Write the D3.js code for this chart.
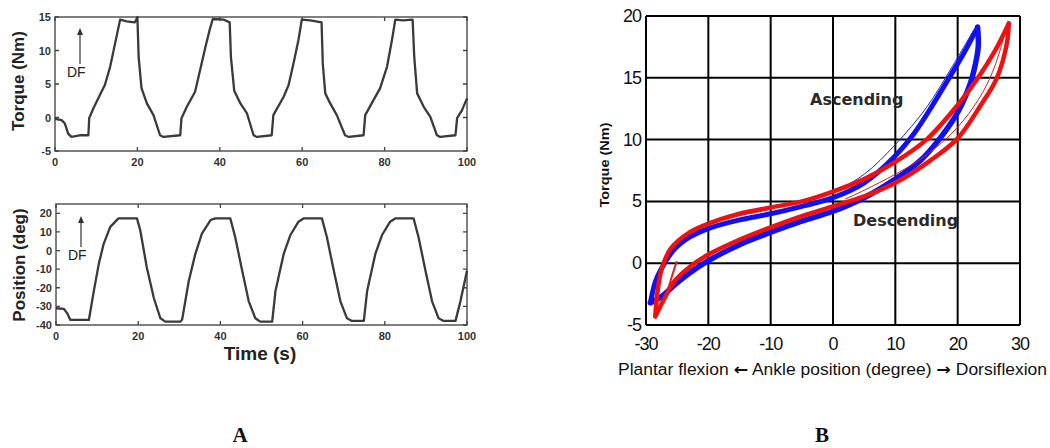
<!DOCTYPE html>
<html>
<head>
<meta charset="utf-8">
<script src="https://cdn.jsdelivr.net/npm/d3@7"></script>
<style>
  body { margin: 0; background: #fff; }
  svg { display: block; }
</style>
</head>
<body>
<svg width="1050" height="448"></svg>
<script>
// ---- data ----
// panel A top : torque (Nm) vs time (s)
var torqueData = [
  [0,-0.2],[1.6,-0.4],[2.4,-0.9],[3.2,-2.4],[4,-2.9],[6,-2.65],[8.1,-2.65],[8.3,-0.1],
  [9.3,1.35],[10.9,3.35],[12.1,4.85],[13.4,7.6],[14.6,11.1],[15.8,14.6],[17.4,14.35],
  [19.4,14.2],[20,15],[20.3,9],[21,4.4],[22.3,2.1],[23.9,0.35],[25.5,-2.65],[26.3,-2.9],
  [30.4,-2.65],[30.7,-0.1],[32,1.6],[34,3.85],[35,6.5],[36.5,10.5],[37.5,13],[38.3,14.7],
  [41,14.6],[42.4,14.2],[42.7,9],[43.5,4],[45,2.1],[46.6,0.6],[48.2,-2.65],[49,-2.9],
  [52.6,-2.65],[53,0.35],[55.5,3.1],[56.7,4.85],[57.9,8.1],[59.1,11.6],[59.9,14.6],
  [62,14.5],[64.7,14.2],[65,8],[65.6,3.6],[66.8,2.1],[68.4,0.35],[70.4,-2.65],[71.3,-2.9],
  [74.9,-2.65],[75.3,0.35],[77.3,2.6],[78.9,4.35],[80.6,7.6],[81.8,11.6],[82.6,14.6],
  [84.5,14.5],[86.8,14.6],[87.2,9],[87.9,3.6],[89.5,1.6],[91.1,0.1],[92.7,-2.65],[93.5,-2.9],
  [97.2,-2.65],[97.6,-0.1],[98.8,1.1],[100,2.85]
];
// panel A bottom : position (deg) vs time (s)
var positionData = [
  [0,-31],[1.9,-31.3],[2.7,-33.6],[3.5,-37.3],[8,-37.3],[9.2,-21.8],[10.4,-7.3],[11.6,3.6],
  [13.2,12.7],[15.2,17.3],[19.7,17.3],[20.5,10.9],[22.1,-9.1],[23.8,-25.5],[25.4,-36.4],
  [26.6,-38.2],[30.3,-38.2],[30.7,-37],[32.3,-16.4],[33.9,-1.8],[35.5,9.1],[37.6,16.4],
  [38.8,17.3],[42.4,17.3],[43.6,7.3],[45.3,-10.9],[46.9,-27.3],[48.5,-36.4],[49.7,-38.2],
  [52.6,-38.2],[53.4,-21.8],[55.4,-1.8],[57,8.2],[59,15.5],[60.3,17.3],[64.7,17.3],
  [65.9,7.3],[67.6,-10.9],[69.2,-27.3],[70.8,-36.4],[72,-37.8],[74.9,-37.8],[75.7,-21.8],
  [77.7,-1.8],[79.3,8.2],[81.3,15.5],[82.6,17.3],[87,17.3],[88.2,7.3],[89.9,-10.9],
  [91.5,-27.3],[93.1,-36.4],[94.3,-37.8],[97.2,-37.8],[98.4,-27.3],[100,-10.9]
];
var timeTicks = [0, 20, 40, 60, 80, 100];
var torqueTicks = [-5, 0, 5, 10, 15];
var positionTicks = [-40, -30, -20, -10, 0, 10, 20];

// panel B : torque vs ankle position loops
var blueAscending = [
  [-29.3,-3.2],[-28.5,-1.5],[-27.7,-0.6],[-25.5,1.1],[-23,2.1],[-20,2.8],[-15,3.5],[-10,4.0],
  [-5,4.6],[0,5.3],[5,6.5],[10,8.7],[13,10.5],[16,12.8],[19,15.3],[21,17],[23.2,19.1]
];
var blueDescending = [
  [23.2,19.1],[23.3,17.5],[22.8,16],[22,14.5],[20,12.2],[17,10],[14,8.3],[10,6.8],[5,5.3],
  [0,4.2],[-5,3.4],[-10,2.5],[-15,1.5],[-20,0.2],[-23,-0.8],[-25.5,-1.8],[-27.5,-2.7],[-29.3,-3.2]
];
var blueThin = [
  [-28.8,-2.5],[-26,0.8],[-20,3.1],[-10,4.4],[0,5.8],[5,7.2],[10,9.6],[15,12.6],[19,15.8],[22.5,18.8]
];
var redAscending = [
  [-28.5,-4.3],[-28.2,-2.5],[-27.5,-0.5],[-26,1.2],[-23,2.5],[-20,3.2],[-15,4.0],[-10,4.5],
  [-5,5.0],[0,5.8],[5,6.8],[10,8.2],[15,10],[20,12.8],[23,14.8],[26,17.2],[28.2,19.4]
];
var redDescending = [
  [28.2,19.4],[27.9,17.8],[26.3,15],[23.6,12.7],[20,10.1],[15.6,8.3],[10,6.5],[5,5.4],
  [0,4.6],[-5,3.8],[-10,2.9],[-15,1.9],[-20,0.7],[-23,-0.3],[-25.5,-1.5],[-27,-2.8],[-28.5,-4.3]
];
var redThin = [
  [27.8,19],[26,16],[24,13.8],[21,11.6],[18,10],[14,8.4],[10,7.2],[5,5.9],[2,5.2]
];
var redHook = [[-25.1,0.1],[-25.8,-1],[-26.4,-2],[-27.2,-3.2]];
var angleTicks = [-30, -20, -10, 0, 10, 20, 30];
var torqueTicksB = [-5, 0, 5, 10, 15, 20];

var svg = d3.select("svg");

// ---------- panel A ----------
function timePanel(data, yDomain, yTicks, top, bottom, left, title, titleY, arrowY) {
  var right = 467;
  var x = d3.scaleLinear().domain([0, 100]).range([left, right]);
  var y = d3.scaleLinear().domain(yDomain).range([bottom, top]);
  var g = svg.append("g");

  g.append("rect")
    .attr("x", left).attr("y", top)
    .attr("width", right - left).attr("height", bottom - top)
    .style("fill", "none").style("stroke", "#555").style("stroke-width", 1.5);

  // inward ticks all round, matlab style
  g.selectAll(".xt").data(timeTicks).enter().append("path")
    .attr("d", function(d) { return "M" + x(d) + "," + bottom + "v-4M" + x(d) + "," + top + "v4"; })
    .style("stroke", "#444").style("stroke-width", 1.3);
  g.selectAll(".yt").data(yTicks).enter().append("path")
    .attr("d", function(d) { return "M" + left + "," + y(d) + "h4M" + right + "," + y(d) + "h-4"; })
    .style("stroke", "#444").style("stroke-width", 1.3);

  g.selectAll(".xl").data(timeTicks).enter().append("text")
    .attr("x", function(d) { return x(d); })
    .attr("y", bottom + 15)
    .attr("text-anchor", "middle")
    .style("font", "bold 11px 'Liberation Sans', Arial, sans-serif")
    .style("fill", "#333")
    .text(function(d) { return d; });
  g.selectAll(".yl").data(yTicks).enter().append("text")
    .attr("x", left - 4)
    .attr("y", function(d) { return y(d) + 4; })
    .attr("text-anchor", "end")
    .style("font", "bold 11px 'Liberation Sans', Arial, sans-serif")
    .style("fill", "#333")
    .text(function(d) { return d; });

  var line = d3.line()
    .x(function(d) { return x(d[0]); })
    .y(function(d) { return y(d[1]); });
  g.append("path")
    .datum(data)
    .attr("d", line)
    .style("fill", "none")
    .style("stroke", "#3a3a3a")
    .style("stroke-width", 2.3)
    .style("stroke-linejoin", "round");

  g.append("text")
    .attr("transform", "translate(" + (left - 31) + "," + titleY + ") rotate(-90)")
    .attr("text-anchor", "middle")
    .style("font", "bold 17px 'Liberation Sans', Arial, sans-serif")
    .style("fill", "#222")
    .text(title);

  // DF arrow
  var ax = left + 25;
  g.append("line")
    .attr("x1", ax).attr("x2", ax)
    .attr("y1", arrowY[1]).attr("y2", arrowY[0] + 5)
    .style("stroke", "#333").style("stroke-width", 1.2);
  g.append("path")
    .attr("d", "M" + (ax - 3) + "," + (arrowY[0] + 7) + "L" + ax + "," + arrowY[0] + "L" + (ax + 3) + "," + (arrowY[0] + 7) + "Z")
    .style("fill", "#333");
  g.append("text")
    .attr("x", ax - 13).attr("y", arrowY[1] + 13)
    .style("font", "14px 'Liberation Sans', Arial, sans-serif")
    .style("fill", "#222")
    .text("DF");
  return g;
}

timePanel(torqueData, [-5, 15], torqueTicks, 17, 151, 55, "Torque (Nm)", 81, [28, 64]);
var gPos = timePanel(positionData, [-40, 25], positionTicks, 204, 325, 56, "Position (deg)", 265, [216, 247]);

gPos.append("text")
  .attr("x", 260).attr("y", 360)
  .attr("text-anchor", "middle")
  .style("font", "bold 19px 'Liberation Sans', Arial, sans-serif")
  .style("fill", "#222")
  .text("Time (s)");

// ---------- panel B ----------
var xB = d3.scaleLinear().domain([-30, 30]).range([646, 1020]);
var yB = d3.scaleLinear().domain([-5, 20]).range([325, 16]);
var gB = svg.append("g");

gB.selectAll(".vg").data(angleTicks).enter().append("line")
  .attr("x1", function(d) { return xB(d); }).attr("x2", function(d) { return xB(d); })
  .attr("y1", yB(-5)).attr("y2", yB(20))
  .style("stroke", "#000").style("stroke-width", 2);
gB.selectAll(".hg").data(torqueTicksB).enter().append("line")
  .attr("x1", xB(-30)).attr("x2", xB(30))
  .attr("y1", function(d) { return yB(d); }).attr("y2", function(d) { return yB(d); })
  .style("stroke", "#000").style("stroke-width", 2);

gB.selectAll(".xlB").data(angleTicks).enter().append("text")
  .attr("x", function(d) { return xB(d); })
  .attr("y", 350)
  .attr("text-anchor", "middle")
  .style("font", "18px 'Liberation Sans', Arial, sans-serif")
  .style("letter-spacing", "-1px")
  .style("fill", "#111")
  .text(function(d) { return d; });
gB.selectAll(".ylB").data(torqueTicksB).enter().append("text")
  .attr("x", 641)
  .attr("y", function(d) { return yB(d) + 6; })
  .attr("text-anchor", "end")
  .style("font", "18px 'Liberation Sans', Arial, sans-serif")
  .style("letter-spacing", "-1px")
  .style("fill", "#111")
  .text(function(d) { return d; });

var lineB = d3.line()
  .x(function(d) { return xB(d[0]); })
  .y(function(d) { return yB(d[1]); })
  .curve(d3.curveCatmullRom);

function loop(data, color, width) {
  gB.append("path")
    .datum(data)
    .attr("d", lineB)
    .style("fill", "none")
    .style("stroke", color)
    .style("stroke-width", width)
    .style("stroke-linecap", "round")
    .style("stroke-linejoin", "round");
}
loop(blueAscending, "#1010f0", 5);
loop(blueDescending, "#1010f0", 5.5);
loop(blueThin, "#2020e0", 1);
loop(redAscending, "#f01010", 4.5);
loop(redDescending, "#f01010", 4.5);
loop(redThin, "#d02020", 1);
loop(redHook, "#e02020", 2);

gB.append("text")
  .attr("x", 810).attr("y", 105)
  .style("font", "bold 16px 'DejaVu Sans', sans-serif")
  .style("fill", "#2a2a2a")
  .text("Ascending");
gB.append("text")
  .attr("x", 853).attr("y", 226)
  .style("font", "bold 16px 'DejaVu Sans', sans-serif")
  .style("fill", "#2a2a2a")
  .text("Descending");

gB.append("text")
  .attr("transform", "translate(609,165) rotate(-90)")
  .attr("text-anchor", "middle")
  .attr("textLength", 85)
  .attr("lengthAdjust", "spacingAndGlyphs")
  .style("font", "bold 12px 'Liberation Sans', Arial, sans-serif")
  .style("fill", "#111")
  .text("Torque (Nm)");

var xTitle = gB.append("text")
  .attr("x", 618).attr("y", 375)
  .attr("textLength", 429)
  .attr("lengthAdjust", "spacingAndGlyphs")
  .style("font", "16px 'Liberation Sans', Arial, sans-serif")
  .style("fill", "#111");
xTitle.append("tspan").text("Plantar flexion ");
xTitle.append("tspan").style("font-family", "'DejaVu Sans', sans-serif").style("font-weight", "bold").text("\u2190");
xTitle.append("tspan").text(" Ankle position (degree) ");
xTitle.append("tspan").style("font-family", "'DejaVu Sans', sans-serif").style("font-weight", "bold").text("\u2192");
xTitle.append("tspan").text(" Dorsiflexion");

// panel letters
svg.append("text")
  .attr("x", 240).attr("y", 442)
  .attr("text-anchor", "middle")
  .style("font", "bold 21px 'Liberation Serif', 'Times New Roman', serif")
  .style("fill", "#111")
  .text("A");
svg.append("text")
  .attr("x", 822).attr("y", 442)
  .attr("text-anchor", "middle")
  .style("font", "bold 21px 'Liberation Serif', 'Times New Roman', serif")
  .style("fill", "#111")
  .text("B");
</script>
</body>
</html>
